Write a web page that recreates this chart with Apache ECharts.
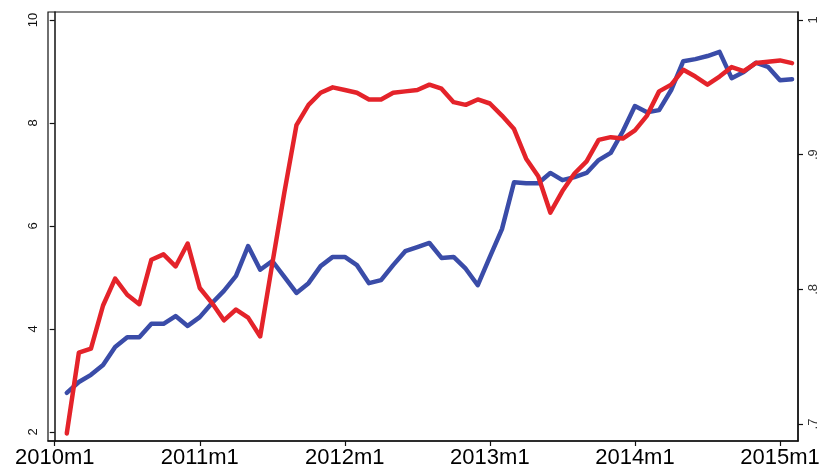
<!DOCTYPE html>
<html>
<head>
<meta charset="utf-8">
<title>Monthly series, 2010m2–2015m2</title>
<script src="https://cdn.jsdelivr.net/npm/echarts@6/dist/echarts.min.js"></script>
<style>
  html, body { margin: 0; padding: 0; background: #fff; }
  #chart { width: 823px; height: 469px; }
</style>
</head>
<body>
<div id="chart"></div>
<script>
// Month index: 0 = 2010m1, 12 = 2011m1, ...
const months = [1,2,3,4,5,6,7,8,9,10,11,12,13,14,15,16,17,18,19,20,21,22,23,24,25,26,27,28,29,30,
  31,32,33,34,35,36,37,38,39,40,41,42,43,44,45,46,47,48,49,50,51,52,53,54,55,56,57,58,59,60,61];

// Blue series (left axis, 2–10)
const blueValues = [2.76,2.97,3.11,3.30,3.65,3.84,3.84,4.10,4.10,4.25,4.06,4.23,4.50,4.74,5.03,5.61,
  5.15,5.32,5.01,4.70,4.89,5.22,5.40,5.40,5.24,4.89,4.95,5.24,5.51,5.59,5.67,5.38,5.40,5.17,4.85,
  5.40,5.94,6.85,6.83,6.83,7.03,6.89,6.95,7.03,7.28,7.42,7.84,8.33,8.21,8.25,8.64,9.20,9.24,9.30,
  9.38,8.87,8.99,9.17,9.09,8.83,8.85];

// Red series (right axis, .7–1)
const redValues = [0.693,0.753,0.756,0.788,0.808,0.796,0.789,0.822,0.826,0.817,0.834,0.801,0.790,
  0.777,0.785,0.779,0.765,0.819,0.872,0.922,0.937,0.946,0.950,0.948,0.946,0.941,0.941,0.946,0.947,
  0.948,0.952,0.949,0.939,0.937,0.941,0.938,0.929,0.919,0.897,0.884,0.857,0.873,0.886,0.895,0.911,
  0.913,0.912,0.918,0.929,0.947,0.952,0.963,0.958,0.952,0.958,0.965,0.962,0.968,0.969,0.970,0.968];

// Axis ticks and labels
const xTicks = [0, 12, 24, 36, 48, 60];
const xTickLabels = ['2010m1', '2011m1', '2012m1', '2013m1', '2014m1', '2015m1'];
const leftTicks = [2, 4, 6, 8, 10];
const rightTicks = [0.7, 0.8, 0.9, 1];
const rightTickLabels = ['.7', '.8', '.9', '1'];

const chart = echarts.init(document.getElementById('chart'), null, { renderer: 'canvas' });

const axisLine = { show: true, lineStyle: { color: '#111', width: 1.5 } };
const axisTick = { show: true, length: 5, lineStyle: { color: '#111', width: 1.2 } };

chart.setOption({
  animation: false,
  backgroundColor: '#fff',
  grid: {
    left: 48, right: 25, top: 12, bottom: 28,
    show: true, borderColor: '#111', borderWidth: 1.2, backgroundColor: '#fff'
  },
  xAxis: {
    type: 'value',
    min: -0.554,
    max: 61.49,
    splitLine: { show: false },
    axisLine: axisLine,
    axisTick: Object.assign({}, axisTick, { customValues: xTicks }),
    axisLabel: {
      customValues: xTicks,
      formatter: v => xTickLabels[xTicks.indexOf(Math.round(v))] || '',
      color: '#000',
      fontFamily: 'Liberation Sans, Arial, sans-serif',
      fontSize: 22,
      margin: 6
    }
  },
  yAxis: [
    {
      type: 'value',
      position: 'left',
      min: 1.825,
      max: 10.155,
      splitLine: { show: false },
      axisLine: axisLine,
      axisTick: Object.assign({}, axisTick, { customValues: leftTicks }),
      axisLabel: {
        customValues: leftTicks,
        rotate: 90,
        color: '#111',
        fontFamily: 'Liberation Sans, Arial, sans-serif',
        fontSize: 13,
        margin: 8
      }
    },
    {
      type: 'value',
      position: 'right',
      min: 0.68738,
      max: 1.00594,
      splitLine: { show: false },
      axisLine: axisLine,
      axisTick: Object.assign({}, axisTick, { customValues: rightTicks }),
      axisLabel: {
        customValues: rightTicks,
        rotate: 90,
        formatter: v => {
          const i = rightTicks.findIndex(t => Math.abs(t - v) < 1e-6);
          return i >= 0 ? rightTickLabels[i] : '';
        },
        color: '#333',
        fontFamily: 'Liberation Sans, Arial, sans-serif',
        fontSize: 13,
        margin: 9
      }
    }
  ],
  series: [
    {
      name: 'blue',
      type: 'line',
      yAxisIndex: 0,
      data: months.map((m, i) => [m, blueValues[i]]),
      showSymbol: false,
      lineStyle: { color: '#3a4ca8', width: 4.5, join: 'round', cap: 'round' },
      z: 2
    },
    {
      name: 'red',
      type: 'line',
      yAxisIndex: 1,
      data: months.map((m, i) => [m, redValues[i]]),
      showSymbol: false,
      lineStyle: { color: '#e4232a', width: 4.5, join: 'round', cap: 'round' },
      z: 3
    }
  ]
});
</script>
</body>
</html>
